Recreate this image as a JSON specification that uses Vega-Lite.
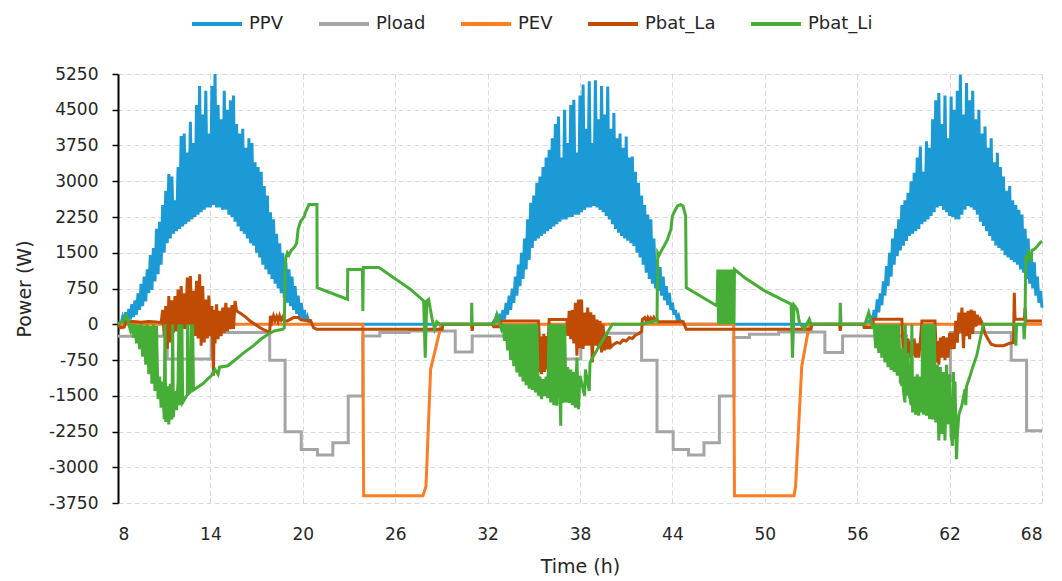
{
  "$schema": "https://vega.github.io/schema/vega-lite/v6.json",
  "width": 924,
  "height": 429,
  "autosize": {"type": "none"},
  "padding": {"left": 118, "top": 74, "right": 20, "bottom": 78},
  "background": "white",
  "config": {
    "font": "DejaVu Sans",
    "view": {"stroke": null},
    "axis": {"labelColor": "#262626", "titleColor": "#262626", "titleFontWeight": "normal", "gridColor": "#d9d9d9", "gridDash": [5, 3], "gridWidth": 1}
  },
  "datasets": {
    "ppv": [
      {"t":8.0,"v":0},{"t":8.1,"v":30},{"t":8.2,"v":10},{"t":8.3,"v":150},{"t":8.4,"v":40},{"t":8.5,"v":250},{"t":8.6,"v":60},{"t":8.7,"v":320},{"t":8.8,"v":100},{"t":8.9,"v":420},
      {"t":9.0,"v":150},{"t":9.1,"v":500},{"t":9.2,"v":200},{"t":9.3,"v":650},{"t":9.4,"v":300},{"t":9.5,"v":850},{"t":9.6,"v":380},{"t":9.7,"v":1000},{"t":9.8,"v":480},{"t":9.9,"v":1150},
      {"t":10.0,"v":650},{"t":10.1,"v":1450},{"t":10.2,"v":720},{"t":10.3,"v":1600},{"t":10.4,"v":900},{"t":10.5,"v":2000},{"t":10.6,"v":1050},{"t":10.7,"v":2150},{"t":10.8,"v":1250},{"t":10.9,"v":2500},
      {"t":11.0,"v":1500},{"t":11.1,"v":2800},{"t":11.2,"v":1700},{"t":11.3,"v":3150},{"t":11.4,"v":1800},{"t":11.5,"v":3100},{"t":11.6,"v":1900},{"t":11.7,"v":2600},{"t":11.8,"v":1950},{"t":11.9,"v":3300},
      {"t":12.0,"v":2000},{"t":12.1,"v":3950},{"t":12.2,"v":2050},{"t":12.3,"v":4000},{"t":12.4,"v":2100},{"t":12.5,"v":3600},{"t":12.6,"v":2150},{"t":12.7,"v":4250},{"t":12.8,"v":2200},{"t":12.9,"v":3800},
      {"t":13.0,"v":2250},{"t":13.1,"v":4600},{"t":13.2,"v":2300},{"t":13.3,"v":5000},{"t":13.4,"v":2350},{"t":13.5,"v":4400},{"t":13.6,"v":2400},{"t":13.7,"v":4900},{"t":13.8,"v":2450},{"t":13.9,"v":4000},
      {"t":14.0,"v":2450},{"t":14.1,"v":5000},{"t":14.2,"v":2500},{"t":14.3,"v":5250},{"t":14.4,"v":2450},{"t":14.5,"v":4600},{"t":14.6,"v":2450},{"t":14.7,"v":4300},{"t":14.8,"v":2400},{"t":14.9,"v":4900},
      {"t":15.0,"v":2400},{"t":15.1,"v":4500},{"t":15.2,"v":2300},{"t":15.3,"v":4700},{"t":15.4,"v":2250},{"t":15.5,"v":4800},{"t":15.6,"v":2150},{"t":15.7,"v":4200},{"t":15.8,"v":2050},{"t":15.9,"v":4000},
      {"t":16.0,"v":1950},{"t":16.1,"v":4100},{"t":16.2,"v":1900},{"t":16.3,"v":3700},{"t":16.4,"v":1800},{"t":16.5,"v":3900},{"t":16.6,"v":1700},{"t":16.7,"v":3800},{"t":16.8,"v":1650},{"t":16.9,"v":3400},
      {"t":17.0,"v":1500},{"t":17.1,"v":3300},{"t":17.2,"v":1400},{"t":17.3,"v":3200},{"t":17.4,"v":1250},{"t":17.5,"v":2900},{"t":17.6,"v":1150},{"t":17.7,"v":2700},{"t":17.8,"v":1050},{"t":17.9,"v":2350},
      {"t":18.0,"v":950},{"t":18.1,"v":2200},{"t":18.2,"v":850},{"t":18.3,"v":1900},{"t":18.4,"v":750},{"t":18.5,"v":1700},{"t":18.6,"v":650},{"t":18.7,"v":1500},{"t":18.8,"v":550},{"t":18.9,"v":1300},
      {"t":19.0,"v":450},{"t":19.1,"v":1150},{"t":19.2,"v":380},{"t":19.3,"v":1000},{"t":19.4,"v":300},{"t":19.5,"v":800},{"t":19.6,"v":220},{"t":19.7,"v":600},{"t":19.8,"v":150},{"t":19.9,"v":450},
      {"t":20.0,"v":100},{"t":20.1,"v":300},{"t":20.2,"v":50},{"t":20.3,"v":150},{"t":20.4,"v":20},{"t":20.5,"v":0},
      {"t":32.3,"v":0},{"t":32.4,"v":60},{"t":32.5,"v":20},{"t":32.6,"v":150},{"t":32.7,"v":40},{"t":32.8,"v":220},{"t":32.9,"v":70},
      {"t":33.0,"v":300},{"t":33.1,"v":100},{"t":33.2,"v":450},{"t":33.3,"v":200},{"t":33.4,"v":600},{"t":33.5,"v":300},{"t":33.6,"v":750},{"t":33.7,"v":450},{"t":33.8,"v":1000},{"t":33.9,"v":600},
      {"t":34.0,"v":1250},{"t":34.1,"v":800},{"t":34.2,"v":1500},{"t":34.3,"v":950},{"t":34.4,"v":1800},{"t":34.5,"v":1150},{"t":34.6,"v":2200},{"t":34.7,"v":1350},{"t":34.8,"v":2550},{"t":34.9,"v":1600},
      {"t":35.0,"v":2700},{"t":35.1,"v":1750},{"t":35.2,"v":2970},{"t":35.3,"v":1800},{"t":35.4,"v":3100},{"t":35.5,"v":1850},{"t":35.6,"v":3300},{"t":35.7,"v":1900},{"t":35.8,"v":3500},{"t":35.9,"v":1950},
      {"t":36.0,"v":3660},{"t":36.1,"v":2000},{"t":36.2,"v":3900},{"t":36.3,"v":2050},{"t":36.4,"v":4200},{"t":36.5,"v":2100},{"t":36.6,"v":4360},{"t":36.7,"v":2150},{"t":36.8,"v":3500},{"t":36.9,"v":2200},
      {"t":37.0,"v":4500},{"t":37.1,"v":2200},{"t":37.2,"v":3800},{"t":37.3,"v":2250},{"t":37.4,"v":4600},{"t":37.5,"v":2250},{"t":37.6,"v":4710},{"t":37.7,"v":2300},{"t":37.8,"v":3600},{"t":37.9,"v":2300},
      {"t":38.0,"v":4800},{"t":38.1,"v":2350},{"t":38.2,"v":5030},{"t":38.3,"v":2400},{"t":38.4,"v":4100},{"t":38.5,"v":2450},{"t":38.6,"v":5100},{"t":38.7,"v":2450},{"t":38.8,"v":3800},{"t":38.9,"v":2480},
      {"t":39.0,"v":5120},{"t":39.1,"v":2450},{"t":39.2,"v":4300},{"t":39.3,"v":2400},{"t":39.4,"v":5000},{"t":39.5,"v":2350},{"t":39.6,"v":4400},{"t":39.7,"v":2270},{"t":39.8,"v":4990},{"t":39.9,"v":2200},
      {"t":40.0,"v":4100},{"t":40.1,"v":2100},{"t":40.2,"v":4430},{"t":40.3,"v":2000},{"t":40.4,"v":3900},{"t":40.5,"v":1920},{"t":40.6,"v":4000},{"t":40.7,"v":1850},{"t":40.8,"v":3700},{"t":40.9,"v":1800},
      {"t":41.0,"v":3940},{"t":41.1,"v":1750},{"t":41.2,"v":3500},{"t":41.3,"v":1700},{"t":41.4,"v":3520},{"t":41.5,"v":1640},{"t":41.6,"v":3200},{"t":41.7,"v":1500},{"t":41.8,"v":2970},{"t":41.9,"v":1400},
      {"t":42.0,"v":2700},{"t":42.1,"v":1250},{"t":42.2,"v":2500},{"t":42.3,"v":1080},{"t":42.4,"v":2300},{"t":42.5,"v":950},{"t":42.6,"v":2200},{"t":42.7,"v":850},{"t":42.8,"v":1800},{"t":42.9,"v":750},
      {"t":43.0,"v":1360},{"t":43.1,"v":700},{"t":43.2,"v":1200},{"t":43.3,"v":600},{"t":43.4,"v":1000},{"t":43.5,"v":500},{"t":43.6,"v":800},{"t":43.7,"v":400},{"t":43.8,"v":660},{"t":43.9,"v":300},
      {"t":44.0,"v":450},{"t":44.1,"v":200},{"t":44.2,"v":300},{"t":44.3,"v":120},{"t":44.4,"v":180},{"t":44.5,"v":50},{"t":44.6,"v":60},{"t":44.7,"v":0},
      {"t":56.6,"v":0},{"t":56.7,"v":60},{"t":56.8,"v":20},{"t":56.9,"v":180},{"t":57.0,"v":60},{"t":57.1,"v":300},{"t":57.2,"v":120},{"t":57.3,"v":520},{"t":57.4,"v":250},{"t":57.5,"v":650},
      {"t":57.6,"v":400},{"t":57.7,"v":900},{"t":57.8,"v":600},{"t":57.9,"v":1220},{"t":58.0,"v":800},{"t":58.1,"v":1500},{"t":58.2,"v":1000},{"t":58.3,"v":1800},{"t":58.4,"v":1250},{"t":58.5,"v":2000},
      {"t":58.6,"v":1430},{"t":58.7,"v":2200},{"t":58.8,"v":1550},{"t":58.9,"v":2500},{"t":59.0,"v":1650},{"t":59.1,"v":2600},{"t":59.2,"v":1750},{"t":59.3,"v":2760},{"t":59.4,"v":1850},{"t":59.5,"v":3000},
      {"t":59.6,"v":1900},{"t":59.7,"v":3180},{"t":59.8,"v":1950},{"t":59.9,"v":3500},{"t":60.0,"v":2000},{"t":60.1,"v":3730},{"t":60.2,"v":2100},{"t":60.3,"v":3200},{"t":60.4,"v":2150},{"t":60.5,"v":3840},
      {"t":60.6,"v":2200},{"t":60.7,"v":3700},{"t":60.8,"v":2270},{"t":60.9,"v":4300},{"t":61.0,"v":2350},{"t":61.1,"v":4700},{"t":61.2,"v":2450},{"t":61.3,"v":4850},{"t":61.4,"v":2480},{"t":61.5,"v":4200},
      {"t":61.6,"v":2400},{"t":61.7,"v":4800},{"t":61.8,"v":2350},{"t":61.9,"v":3900},{"t":62.0,"v":2270},{"t":62.1,"v":4780},{"t":62.2,"v":2250},{"t":62.3,"v":4500},{"t":62.4,"v":2200},{"t":62.5,"v":4900},
      {"t":62.6,"v":2200},{"t":62.7,"v":5235},{"t":62.8,"v":2300},{"t":62.9,"v":4400},{"t":63.0,"v":2400},{"t":63.1,"v":5060},{"t":63.2,"v":2480},{"t":63.3,"v":4700},{"t":63.4,"v":2450},{"t":63.5,"v":4900},
      {"t":63.6,"v":2400},{"t":63.7,"v":4300},{"t":63.8,"v":2300},{"t":63.9,"v":4500},{"t":64.0,"v":2150},{"t":64.1,"v":4000},{"t":64.2,"v":2060},{"t":64.3,"v":4150},{"t":64.4,"v":1950},{"t":64.5,"v":3700},
      {"t":64.6,"v":1850},{"t":64.7,"v":3900},{"t":64.8,"v":1750},{"t":64.9,"v":3400},{"t":65.0,"v":1650},{"t":65.1,"v":3600},{"t":65.2,"v":1600},{"t":65.3,"v":3300},{"t":65.4,"v":1550},{"t":65.5,"v":3100},
      {"t":65.6,"v":1450},{"t":65.7,"v":2800},{"t":65.8,"v":1400},{"t":65.9,"v":2900},{"t":66.0,"v":1350},{"t":66.1,"v":2600},{"t":66.2,"v":1300},{"t":66.3,"v":2500},{"t":66.4,"v":1250},{"t":66.5,"v":2400},
      {"t":66.6,"v":1150},{"t":66.7,"v":2300},{"t":66.8,"v":1080},{"t":66.9,"v":2000},{"t":67.0,"v":950},{"t":67.1,"v":1800},{"t":67.2,"v":850},{"t":67.3,"v":1500},{"t":67.4,"v":750},{"t":67.5,"v":1300},
      {"t":67.6,"v":600},{"t":67.7,"v":1000},{"t":67.8,"v":450},{"t":67.9,"v":700},{"t":68.0,"v":350}
    ],
    "load": [
      {"t":8.0,"v":-250},{"t":11.2,"v":-250},{"t":11.2,"v":-730},{"t":14.05,"v":-730},{"t":14.05,"v":-175},{"t":17.85,"v":-175},{"t":17.85,"v":-756},{"t":18.85,"v":-756},{"t":18.85,"v":-2254},{"t":19.9,"v":-2254},{"t":19.9,"v":-2625},{"t":20.95,"v":-2625},{"t":20.95,"v":-2744},{"t":21.95,"v":-2744},{"t":21.95,"v":-2485},{"t":22.95,"v":-2485},{"t":22.95,"v":-1505},{"t":23.9,"v":-1505},{"t":23.9,"v":-245},{"t":25.0,"v":-245},{"t":25.0,"v":-175},{"t":26.9,"v":-175},{"t":26.9,"v":-140},{"t":29.9,"v":-140},{"t":29.9,"v":-580},{"t":31.0,"v":-580},{"t":31.0,"v":-245},
      {"t":35.2,"v":-245},{"t":35.2,"v":-730},{"t":38.05,"v":-730},{"t":38.05,"v":-190},{"t":42.0,"v":-190},{"t":42.0,"v":-756},{"t":43.0,"v":-756},{"t":43.0,"v":-2254},{"t":44.05,"v":-2254},{"t":44.05,"v":-2625},{"t":45.05,"v":-2625},{"t":45.05,"v":-2744},{"t":46.05,"v":-2744},{"t":46.05,"v":-2485},{"t":47.05,"v":-2485},{"t":47.05,"v":-1505},{"t":48.0,"v":-1505},{"t":48.0,"v":-280},{"t":49.0,"v":-280},{"t":49.0,"v":-210},{"t":50.9,"v":-210},{"t":50.9,"v":-160},{"t":53.9,"v":-160},{"t":53.9,"v":-593},{"t":55.05,"v":-593},{"t":55.05,"v":-245},
      {"t":59.2,"v":-245},{"t":59.2,"v":-1190},{"t":62.05,"v":-1190},{"t":62.05,"v":-175},{"t":66.0,"v":-175},{"t":66.0,"v":-756},{"t":67.0,"v":-756},{"t":67.0,"v":-2234},{"t":68.0,"v":-2234}
    ],
    "ev": [
      {"t":8.0,"v":0},{"t":23.9,"v":0},{"t":23.95,"v":-3600},{"t":27.8,"v":-3600},{"t":28.0,"v":-3400},{"t":28.3,"v":-945},{"t":29.0,"v":0},
      {"t":47.98,"v":0},{"t":48.03,"v":-3600},{"t":51.9,"v":-3600},{"t":52.0,"v":-3400},{"t":52.4,"v":-875},{"t":52.9,"v":0},{"t":68.0,"v":0}
    ],
    "la": [
      {"t":8.0,"v":0},{"t":8.15,"v":-70},{"t":8.4,"v":-60},{"t":8.5,"v":50},{"t":9.0,"v":60},{"t":9.5,"v":40},{"t":10.0,"v":60},{"t":10.5,"v":50},{"t":10.8,"v":30},
      {"t":10.9,"v":300},{"t":11.0,"v":-245},{"t":11.1,"v":380},{"t":11.2,"v":-520},{"t":11.3,"v":590},{"t":11.4,"v":-380},{"t":11.5,"v":500},{"t":11.6,"v":-175},{"t":11.7,"v":590},{"t":11.8,"v":-150},
      {"t":11.9,"v":730},{"t":12.0,"v":-175},{"t":12.1,"v":800},{"t":12.2,"v":-100},{"t":12.3,"v":650},{"t":12.4,"v":-100},{"t":12.5,"v":980},{"t":12.6,"v":0},{"t":12.7,"v":1010},{"t":12.8,"v":-150},
      {"t":12.9,"v":700},{"t":13.0,"v":-245},{"t":13.1,"v":910},{"t":13.2,"v":-300},{"t":13.3,"v":1050},{"t":13.4,"v":-450},{"t":13.5,"v":800},{"t":13.6,"v":-380},{"t":13.7,"v":520},{"t":13.8,"v":-300},
      {"t":13.9,"v":600},{"t":14.0,"v":-250},{"t":14.1,"v":380},{"t":14.2,"v":-1080},{"t":14.25,"v":300},{"t":14.3,"v":-400},{"t":14.4,"v":420},{"t":14.5,"v":-315},{"t":14.6,"v":280},{"t":14.7,"v":-250},
      {"t":14.8,"v":350},{"t":14.9,"v":-175},{"t":15.0,"v":450},{"t":15.1,"v":-150},{"t":15.2,"v":350},{"t":15.3,"v":-105},{"t":15.4,"v":400},{"t":15.5,"v":-100},{"t":15.6,"v":490},{"t":15.7,"v":280},
      {"t":16.0,"v":220},{"t":16.3,"v":150},{"t":16.6,"v":60},{"t":16.9,"v":0},{"t":17.2,"v":-70},{"t":17.5,"v":-120},{"t":17.7,"v":-150},{"t":17.85,"v":-170},
      {"t":17.9,"v":175},{"t":18.0,"v":60},{"t":18.1,"v":175},{"t":18.2,"v":80},{"t":18.3,"v":160},{"t":18.4,"v":60},{"t":18.5,"v":175},{"t":18.6,"v":90},{"t":18.7,"v":150},{"t":18.8,"v":70},
      {"t":19.0,"v":70},{"t":19.4,"v":140},{"t":19.7,"v":140},{"t":19.9,"v":90},{"t":20.5,"v":80},{"t":20.7,"v":-70},{"t":20.9,"v":-105},{"t":29.05,"v":-105},{"t":29.1,"v":0},{"t":30.95,"v":0},{"t":31.0,"v":-140},{"t":31.05,"v":0},
      {"t":32.3,"v":0},{"t":32.4,"v":-50},{"t":32.8,"v":-50},{"t":32.85,"v":70},{"t":35.3,"v":70},
      {"t":35.35,"v":-200},{"t":35.4,"v":-1000},{"t":35.45,"v":-300},{"t":35.5,"v":-1050},{"t":35.55,"v":-250},{"t":35.6,"v":-900},{"t":35.65,"v":-200},{"t":35.7,"v":-1000},{"t":35.75,"v":-300},{"t":35.8,"v":-800},{"t":35.85,"v":-250},{"t":35.9,"v":-950},{"t":35.95,"v":-200},
      {"t":36.0,"v":100},{"t":37.15,"v":100},
      {"t":37.2,"v":-245},{"t":37.3,"v":280},{"t":37.4,"v":-315},{"t":37.5,"v":300},{"t":37.6,"v":-400},{"t":37.7,"v":450},{"t":37.8,"v":-660},{"t":37.9,"v":520},{"t":38.0,"v":-500},{"t":38.1,"v":520},
      {"t":38.2,"v":-520},{"t":38.3,"v":245},{"t":38.4,"v":-450},{"t":38.5,"v":350},{"t":38.6,"v":-450},{"t":38.7,"v":250},{"t":38.8,"v":-800},{"t":38.9,"v":200},{"t":39.0,"v":-450},{"t":39.1,"v":100},
      {"t":39.2,"v":-500},{"t":39.3,"v":70},{"t":39.4,"v":-590},{"t":39.5,"v":0},{"t":39.6,"v":-550},{"t":39.7,"v":-200},{"t":39.8,"v":-525},{"t":39.9,"v":-250},{"t":40.0,"v":-480},{"t":40.2,"v":-420},
      {"t":40.4,"v":-380},{"t":40.6,"v":-400},{"t":40.8,"v":-330},{"t":41.0,"v":-350},{"t":41.2,"v":-280},{"t":41.4,"v":-300},{"t":41.6,"v":-230},{"t":41.8,"v":-200},{"t":42.0,"v":-150},
      {"t":42.05,"v":100},{"t":42.2,"v":140},{"t":42.3,"v":70},{"t":42.4,"v":140},{"t":42.5,"v":70},{"t":42.6,"v":130},{"t":42.7,"v":70},{"t":42.8,"v":140},{"t":42.9,"v":80},{"t":43.0,"v":100},
      {"t":43.1,"v":50},{"t":44.7,"v":50},{"t":44.9,"v":-105},{"t":53.0,"v":-105},{"t":53.05,"v":0},{"t":54.85,"v":0},{"t":54.9,"v":-140},{"t":54.95,"v":0},
      {"t":56.4,"v":0},{"t":56.45,"v":-70},{"t":57.0,"v":-70},{"t":57.05,"v":105},{"t":58.9,"v":105},
      {"t":58.95,"v":-300},{"t":59.0,"v":-660},{"t":59.1,"v":-250},{"t":59.2,"v":-600},{"t":59.3,"v":-300},{"t":59.4,"v":-700},{"t":59.5,"v":-350},{"t":59.6,"v":-650},{"t":59.7,"v":-300},{"t":59.8,"v":-700},
      {"t":59.9,"v":-400},{"t":60.0,"v":-700},{"t":60.1,"v":-350},{"t":60.2,"v":70},{"t":61.05,"v":70},
      {"t":61.1,"v":-315},{"t":61.15,"v":-800},{"t":61.2,"v":-350},{"t":61.3,"v":-850},{"t":61.4,"v":-280},{"t":61.5,"v":-700},{"t":61.6,"v":-250},{"t":61.7,"v":-750},{"t":61.8,"v":-280},{"t":61.9,"v":-700},
      {"t":62.0,"v":-180},{"t":62.1,"v":-520},{"t":62.2,"v":-180},{"t":62.3,"v":-520},{"t":62.4,"v":70},{"t":62.5,"v":-385},{"t":62.6,"v":245},{"t":62.7,"v":-170},{"t":62.8,"v":350},{"t":62.9,"v":-500},
      {"t":63.0,"v":245},{"t":63.1,"v":-250},{"t":63.2,"v":280},{"t":63.3,"v":-315},{"t":63.4,"v":310},{"t":63.5,"v":-200},{"t":63.6,"v":280},{"t":63.7,"v":-50},{"t":63.8,"v":200},{"t":63.9,"v":0},
      {"t":64.0,"v":100},{"t":64.15,"v":0},{"t":64.3,"v":-200},{"t":64.5,"v":-315},{"t":64.7,"v":-420},{"t":65.0,"v":-450},{"t":65.5,"v":-450},{"t":65.9,"v":-400},{"t":66.15,"v":-385},
      {"t":66.2,"v":660},{"t":66.25,"v":105},{"t":66.85,"v":105},{"t":66.9,"v":350},{"t":66.95,"v":70},{"t":68.0,"v":70}
    ],
    "li": [
      {"t":8.0,"v":0},{"t":8.3,"v":60},{"t":8.55,"v":180},{"t":8.7,"v":0},{"t":8.8,"v":-120},{"t":8.9,"v":0},{"t":9.0,"v":-280},{"t":9.1,"v":0},{"t":9.2,"v":-400},{"t":9.3,"v":-20},
      {"t":9.4,"v":-520},{"t":9.5,"v":0},{"t":9.6,"v":-680},{"t":9.7,"v":-30},{"t":9.8,"v":-850},{"t":9.9,"v":0},{"t":10.0,"v":-1050},{"t":10.1,"v":-40},{"t":10.2,"v":-1250},{"t":10.3,"v":0},
      {"t":10.4,"v":-1400},{"t":10.5,"v":-30},{"t":10.6,"v":-1570},{"t":10.7,"v":-1100},{"t":10.8,"v":-1750},{"t":10.9,"v":-1200},{"t":11.0,"v":-1990},{"t":11.05,"v":0},{"t":11.1,"v":-2050},{"t":11.2,"v":-1300},
      {"t":11.3,"v":-2100},{"t":11.4,"v":-1250},{"t":11.5,"v":-2000},{"t":11.55,"v":0},{"t":11.6,"v":-1950},{"t":11.7,"v":-1400},{"t":11.8,"v":-1800},{"t":11.9,"v":-1200},{"t":11.95,"v":0},{"t":12.0,"v":-1700},
      {"t":12.05,"v":0},{"t":12.1,"v":-1680},{"t":12.15,"v":0},{"t":12.2,"v":-1640},{"t":12.5,"v":-1480},{"t":12.52,"v":0},{"t":12.55,"v":-1470},{"t":12.7,"v":-1420},{"t":12.75,"v":0},{"t":12.8,"v":-1400},
      {"t":12.85,"v":0},{"t":12.9,"v":-1380},{"t":13.0,"v":-1360},{"t":13.5,"v":-1250},{"t":14.05,"v":-1080},{"t":14.3,"v":-950},{"t":14.5,"v":-1050},{"t":14.6,"v":-900},{"t":15.13,"v":-870},{"t":15.6,"v":-750},
      {"t":16.2,"v":-590},{"t":16.8,"v":-450},{"t":17.29,"v":-310},{"t":17.8,"v":-200},{"t":18.15,"v":-140},{"t":18.69,"v":-105},{"t":18.8,"v":-80},
      {"t":18.85,"v":1220},{"t":18.9,"v":1400},{"t":19.0,"v":1500},{"t":19.1,"v":1450},{"t":19.25,"v":1550},{"t":19.4,"v":1600},{"t":19.5,"v":1640},{"t":19.6,"v":1700},{"t":19.7,"v":2000},{"t":19.85,"v":2150},
      {"t":20.1,"v":2270},{"t":20.2,"v":2370},{"t":20.4,"v":2510},{"t":20.92,"v":2510},{"t":20.93,"v":768},{"t":22.9,"v":524},{"t":22.92,"v":1150},{"t":23.87,"v":1150},{"t":23.9,"v":280},{"t":23.93,"v":1190},
      {"t":24.95,"v":1190},{"t":25.9,"v":977},{"t":27.0,"v":733},{"t":27.85,"v":489},{"t":27.95,"v":-700},{"t":28.05,"v":489},{"t":28.17,"v":520},{"t":28.4,"v":105},{"t":28.55,"v":-100},{"t":28.7,"v":50},
      {"t":28.9,"v":0},{"t":30.95,"v":0},{"t":30.97,"v":450},{"t":31.0,"v":0},
      {"t":32.4,"v":0},{"t":32.6,"v":210},{"t":32.8,"v":0},{"t":32.9,"v":-100},{"t":33.0,"v":0},{"t":33.1,"v":-350},{"t":33.2,"v":0},{"t":33.3,"v":-550},{"t":33.4,"v":0},{"t":33.5,"v":-750},
      {"t":33.6,"v":0},{"t":33.7,"v":-880},{"t":33.8,"v":0},{"t":33.9,"v":-1010},{"t":34.0,"v":0},{"t":34.1,"v":-1100},{"t":34.2,"v":0},{"t":34.3,"v":-1200},{"t":34.4,"v":0},{"t":34.5,"v":-1280},
      {"t":34.6,"v":0},{"t":34.7,"v":-1350},{"t":34.8,"v":0},{"t":34.9,"v":-1380},{"t":35.0,"v":0},{"t":35.1,"v":-1430},{"t":35.2,"v":0},{"t":35.3,"v":-1500},{"t":35.4,"v":-1100},{"t":35.5,"v":-1570},
      {"t":35.6,"v":-1150},{"t":35.7,"v":-1500},{"t":35.8,"v":-1100},{"t":35.9,"v":-1550},{"t":36.0,"v":0},{"t":36.1,"v":-1640},{"t":36.2,"v":0},{"t":36.3,"v":-1700},{"t":36.4,"v":0},{"t":36.5,"v":-1710},
      {"t":36.6,"v":0},{"t":36.75,"v":-2130},{"t":36.8,"v":0},{"t":36.9,"v":-1650},{"t":37.0,"v":0},{"t":37.1,"v":-1640},{"t":37.2,"v":-900},{"t":37.3,"v":-1650},{"t":37.4,"v":-950},{"t":37.5,"v":-1700},
      {"t":37.6,"v":-1000},{"t":37.7,"v":-1750},{"t":37.8,"v":-700},{"t":37.9,"v":-1780},{"t":38.0,"v":-1080},{"t":38.3,"v":-1500},{"t":38.35,"v":-950},{"t":38.6,"v":-1400},{"t":38.65,"v":-800},{"t":39.0,"v":-600},
      {"t":39.5,"v":-320},{"t":40.1,"v":0},{"t":42.0,"v":0},{"t":42.9,"v":70},{"t":43.0,"v":60},{"t":43.05,"v":1500},{"t":43.14,"v":1450},{"t":43.3,"v":1550},{"t":43.46,"v":1640},{"t":43.68,"v":1780},
      {"t":43.9,"v":1990},{"t":44.0,"v":2270},{"t":44.1,"v":2340},{"t":44.32,"v":2480},{"t":44.54,"v":2510},{"t":44.69,"v":2480},{"t":44.86,"v":2270},{"t":44.9,"v":768},{"t":46.9,"v":384},{"t":46.95,"v":1150},
      {"t":47.0,"v":0},{"t":47.1,"v":1150},{"t":47.2,"v":0},{"t":47.3,"v":1150},{"t":47.4,"v":0},{"t":47.5,"v":1150},{"t":47.6,"v":0},{"t":47.7,"v":1150},{"t":47.8,"v":0},{"t":47.9,"v":1150},
      {"t":48.0,"v":0},{"t":48.03,"v":1150},{"t":48.7,"v":977},{"t":50.0,"v":700},{"t":51.71,"v":419},{"t":51.8,"v":-700},{"t":51.9,"v":400},{"t":52.1,"v":314},{"t":52.25,"v":30},{"t":52.57,"v":-100},
      {"t":52.89,"v":105},{"t":53.0,"v":0},{"t":54.88,"v":0},{"t":54.9,"v":450},{"t":54.95,"v":0},
      {"t":56.5,"v":0},{"t":56.75,"v":245},{"t":56.95,"v":0},{"t":57.0,"v":-100},{"t":57.1,"v":0},{"t":57.2,"v":-500},{"t":57.3,"v":0},{"t":57.4,"v":-600},{"t":57.5,"v":0},{"t":57.6,"v":-700},
      {"t":57.7,"v":0},{"t":57.8,"v":-800},{"t":57.9,"v":0},{"t":58.0,"v":-900},{"t":58.1,"v":0},{"t":58.2,"v":-960},{"t":58.3,"v":0},{"t":58.4,"v":-1000},{"t":58.5,"v":0},{"t":58.6,"v":-1080},
      {"t":58.7,"v":0},{"t":58.8,"v":-1200},{"t":58.9,"v":-1290},{"t":58.95,"v":-500},{"t":59.0,"v":-1400},{"t":59.1,"v":-1640},{"t":59.12,"v":0},{"t":59.2,"v":-1500},{"t":59.3,"v":-600},{"t":59.4,"v":-1500},
      {"t":59.5,"v":-1700},{"t":59.55,"v":0},{"t":59.6,"v":-1850},{"t":59.7,"v":-1100},{"t":59.8,"v":-1900},{"t":59.9,"v":-1050},{"t":60.0,"v":-1920},{"t":60.1,"v":-1100},{"t":60.2,"v":-1850},{"t":60.25,"v":0},
      {"t":60.3,"v":-1900},{"t":60.4,"v":0},{"t":60.5,"v":-1920},{"t":60.6,"v":0},{"t":60.7,"v":-1990},{"t":60.8,"v":0},{"t":60.9,"v":-2000},{"t":61.0,"v":0},{"t":61.1,"v":-2060},{"t":61.2,"v":-850},
      {"t":61.3,"v":-2440},{"t":61.4,"v":-900},{"t":61.5,"v":-2300},{"t":61.6,"v":-1000},{"t":61.7,"v":-2440},{"t":61.8,"v":-850},{"t":61.9,"v":-2100},{"t":62.0,"v":-1050},{"t":62.1,"v":-2340},{"t":62.2,"v":-2550},
      {"t":62.25,"v":-1000},{"t":62.3,"v":-2400},{"t":62.35,"v":-1200},{"t":62.45,"v":-2830},{"t":62.5,"v":-2340},{"t":62.6,"v":-1900},{"t":62.79,"v":-1710},{"t":63.0,"v":-1360},{"t":63.05,"v":-1700},{"t":63.1,"v":-1300},
      {"t":63.33,"v":-1080},{"t":63.5,"v":-900},{"t":63.76,"v":-660},{"t":64.19,"v":0},{"t":66.25,"v":0},{"t":66.3,"v":-450},{"t":66.35,"v":0},{"t":66.8,"v":0},{"t":66.84,"v":-314},{"t":66.9,"v":0},
      {"t":66.94,"v":1430},{"t":67.0,"v":1300},{"t":67.1,"v":1500},{"t":67.27,"v":1360},{"t":67.35,"v":1550},{"t":67.48,"v":1570},{"t":67.6,"v":1600},{"t":67.7,"v":1640},{"t":67.85,"v":1700},{"t":68.0,"v":1745}
    ]
  },
  "encoding": {
    "x": {
      "field": "t", "type": "quantitative",
      "scale": {"domain": [8, 68], "nice": false, "zero": false},
      "axis": {"values": [8, 14, 20, 26, 32, 38, 44, 50, 56, 62, 68], "title": "Time (h)", "domain": false, "ticks": false, "labelFontSize": 17, "labelPadding": 23, "titleFontSize": 19, "titlePadding": 15, "grid": true}
    },
    "y": {
      "field": "v", "type": "quantitative",
      "scale": {"domain": [-3750, 5250], "nice": false, "zero": false},
      "axis": {"values": [-3750, -3000, -2250, -1500, -750, 0, 750, 1500, 2250, 3000, 3750, 4500, 5250], "labelExpr": "'' + datum.value", "title": "Power (W)", "domain": true, "domainColor": "#000000", "domainWidth": 2, "ticks": true, "tickColor": "#000000", "tickSize": 6, "tickWidth": 1.5, "labelFontSize": 17, "labelPadding": 14, "titleFontSize": 19, "titlePadding": 14, "grid": true}
    },
    "order": {"value": null}
  },
  "layer": [
    {
      "data": {"name": "ppv"},
      "mark": {"type": "line", "strokeWidth": 3},
      "encoding": {
        "color": {
          "datum": "PPV", "type": "nominal",
          "scale": {"domain": ["PPV", "Pload", "PEV", "Pbat_La", "Pbat_Li"], "range": ["#1b9ad6", "#a5a5a5", "#fb7d24", "#c04b05", "#46ae36"]},
          "legend": {"title": null, "orient": "none", "direction": "horizontal", "legendX": 72, "legendY": -77, "symbolType": "stroke", "symbolSize": 2500, "symbolStrokeWidth": 4, "labelFontSize": 18, "labelColor": "#262626", "labelOffset": 5, "columnPadding": 27}
        }
      }
    },
    {"data": {"name": "load"}, "mark": {"type": "line", "strokeWidth": 3}, "encoding": {"color": {"datum": "Pload", "type": "nominal"}}},
    {"data": {"name": "ev"}, "mark": {"type": "line", "strokeWidth": 3}, "encoding": {"color": {"datum": "PEV", "type": "nominal"}}},
    {"data": {"name": "la"}, "mark": {"type": "line", "strokeWidth": 3}, "encoding": {"color": {"datum": "Pbat_La", "type": "nominal"}}},
    {"data": {"name": "li"}, "mark": {"type": "line", "strokeWidth": 3}, "encoding": {"color": {"datum": "Pbat_Li", "type": "nominal"}}}
  ]
}
